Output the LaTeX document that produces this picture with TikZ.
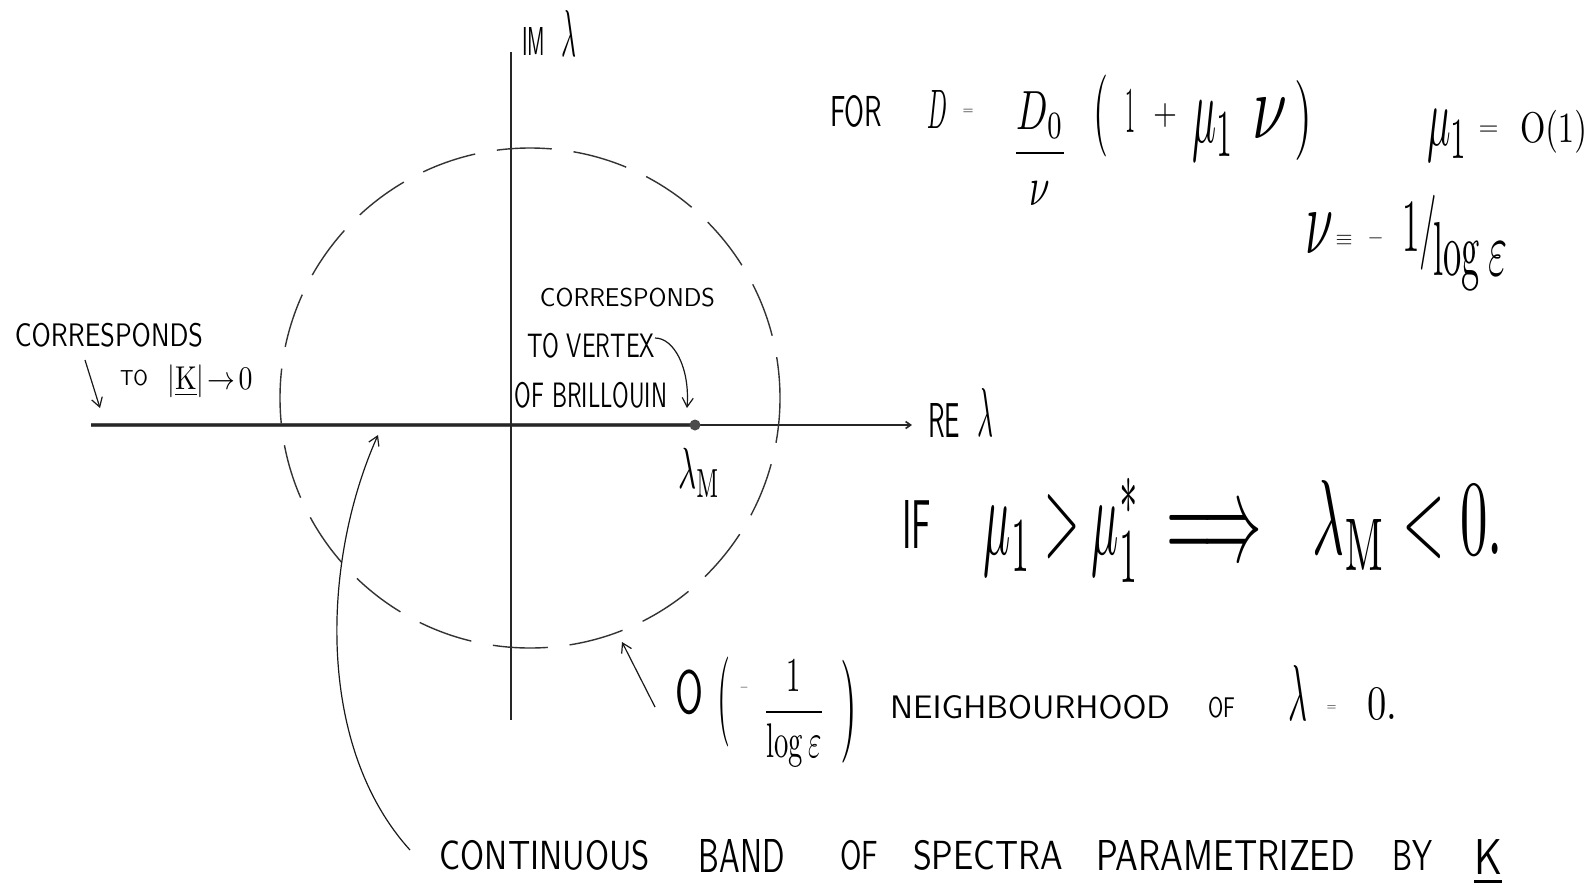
\documentclass[tikz,border=0pt]{standalone}
\usepackage{amsmath}
\usepackage{graphicx}
\usetikzlibrary{arrows.meta}
\newcommand\rb[3]{\resizebox*{#1pt}{#2pt}{#3}}
\newcommand\rw[2]{\resizebox{#1pt}{!}{#2}}
\tikzset{
  lab/.style={inner sep=0pt, outer sep=0pt, anchor=center, font=\sffamily},
  axisline/.style={line width=1.6pt, black!85},
  ring/.style={line width=1.4pt, dash pattern=on 55pt off 22pt, black!80},
  band/.style={line width=4.5pt, black!65},
  hand/.style={line width=1.2pt, black!90, -{Straight Barb[length=9pt,width=11pt]}},
}
\begin{document}
\begin{tikzpicture}[x=1pt,y=-1pt]
\fill[white] (0,0) rectangle (1593,892);
\useasboundingbox (0,0) rectangle (1593,892);

% axes
\coordinate (ytop) at (511,52);
\coordinate (ybot) at (511,720);
\coordinate (xl) at (91,425);
\coordinate (xr) at (912,425);
\coordinate (lmpt) at (695,425);
\draw[band] (xl) -- (lmpt);
\draw[axisline] (ytop) -- (ybot);
\draw[axisline, -{Straight Barb[length=5pt,width=7pt]}] (xl) -- (xr);
\fill[black!70] (lmpt) circle[radius=5.5];

% dashed neighbourhood circle
\draw[ring, dash phase=10pt] (530,398) circle[radius=250];

% axis labels
\node[lab] (imtxt) at (533.5,41) {\rb{23}{28}{IM}};
\node[lab] (imlam) at (569,33.5) {\rb{15}{46}{$\lambda$}};
\node[lab] (retxt) at (944,420) {\rb{32}{34}{RE}};
\node[lab] (relam) at (985,412) {\rb{16}{48}{$\lambda$}};

% left annotation
\node[lab] (corl) at (109,335) {\rb{188}{24}{CORRESPONDS}};
\node[lab] (tol) at (134,378) {\rb{28}{16}{TO}};
\node[lab] (kl) at (210,381.5) {\rb{85}{33}{$|\underline{\mathrm{K}}|\!\to\! 0$}};
\coordinate (larrs) at (85,360);
\coordinate (larre) at (100,408);
\draw[hand] (larrs) -- (larre);

% middle annotation
\node[lab] (corm) at (627.5,297.5) {\rb{175}{19}{CORRESPONDS}};
\node[lab] (vtx) at (591,345.5) {\rb{128}{25}{TO VERTEX}};
\node[lab] (bril) at (591,395) {\rb{152}{26}{OF BRILLOUIN}};
\coordinate (vtxarr) at (655,338);
\coordinate (vtxtip) at (687,408);
\draw[hand] (vtxarr) .. controls (674,338) and (690,368) .. (vtxtip);
\node[lab] (lamM) at (699,472.5) {\rb{42}{49}{$\lambda_{\mathrm{M}}$}};

% formula top right
\node[lab] (fortx) at (856,111) {\rb{52}{32}{FOR}};
\node[lab] (dD) at (937.5,109) {\rb{20}{38}{$D$}};
\node[lab] (deq) at (968,112) {\rw{11}{$=$}};
\node[lab] (dfr) at (1040,148.5) {\rb{56}{113}{$\dfrac{D_0}{\nu}$}};
\node[lab] (lpar) at (1100.5,116) {\rb{15}{82}{$($}};
\node[lab] (one) at (1130,111) {\rb{10}{42}{$1$}};
\node[lab] (plus) at (1165,115) {\rb{24}{24}{$+$}};
\node[lab] (mua) at (1213,131) {\rb{42}{60}{$\mu_1$}};
\node[lab] (nua) at (1269.5,118) {\rb{35}{40}{$\nu$}};
\node[lab] (rpar) at (1303,120) {\rb{18}{80}{$)$}};
\node[lab] (mub) at (1447.5,136) {\rb{41}{52}{$\mu_1$}};
\node[lab] (eqb) at (1488.5,131) {\rw{20}{$=$}};
\node[lab] (oone) at (1553.5,131.5) {\rb{67}{43}{$\mathrm{O}(1)$}};

\node[lab] (nub) at (1319,233) {\rb{28}{40}{$\nu$}};
\node[lab] (equiv) at (1344,240.5) {\rw{17}{$\equiv$}};
\node[lab] (minus) at (1375.5,238) {\rw{16}{$-$}};
\node[lab] (onesl) at (1419.5,232.5) {\rb{35}{75}{$1/$}};
\node[lab] (logt) at (1456.5,256) {\rb{47}{68}{$\log$}};
\node[lab] (eps) at (1497.5,258.5) {\rb{19}{33}{$\varepsilon$}};

% IF line
\node[lab] (iftx) at (916.5,524) {\rb{29}{48}{IF}};
\node[lab] (ineq) at (1062,530) {\rb{156}{104}{$\mu_1>\mu_1^{*}$}};
\node[lab] (impl) at (1214,537.5) {\rb{96}{45}{$\Longrightarrow$}};
\node[lab] (lamres) at (1408,525) {\rb{190}{90}{$\lambda_{\mathrm{M}}<0.$}};

% neighbourhood annotation
\node[lab] (bigO) at (689,692.5) {\rb{28}{45}{O}};
\node[lab] (lpb) at (723.5,702) {\rb{13}{90}{$($}};
\node[lab] (mnb) at (744,688) {\rw{9}{$-$}};
\node[lab] (frb) at (794,713.5) {\rb{62}{107}{$\dfrac{1}{\log\varepsilon}$}};
\node[lab] (rpb) at (848.5,711.5) {\rb{17}{103}{$)$}};
\node[lab] (nbh) at (1030,707) {\rb{280}{24}{NEIGHBOURHOOD}};
\node[lab] (ofa) at (1221.5,707.5) {\rb{27}{21}{OF}};
\node[lab] (lamz) at (1297.5,692.5) {\rb{19}{55}{$\lambda$}};
\node[lab] (eqz) at (1331.5,708.5) {\rw{10}{$=$}};
\node[lab] (zero) at (1382,703.5) {\rb{30}{31}{$0.$}};
\coordinate (oarrs) at (655,707);
\coordinate (oarre) at (622,642);
\draw[hand] (oarrs) -- (oarre);

% bottom caption
\node[lab] (w1) at (545,855) {\rb{210}{30}{CONTINUOUS}};
\node[lab] (w2) at (742,856) {\rb{86}{33}{BAND}};
\node[lab] (w3) at (859,855) {\rb{38}{30}{OF}};
\node[lab] (w4) at (988,855) {\rb{150}{30}{SPECTRA}};
\node[lab] (w5) at (1226,855) {\rb{258}{30}{PARAMETRIZED}};
\node[lab] (w6) at (1412,855) {\rb{40}{30}{BY}};
\node[lab] (w7) at (1488,862) {\rb{28}{45}{\underline{K}}};
\coordinate (barrs) at (410,850);
\coordinate (barre) at (378,435);
\draw[hand] (barrs) .. controls (315,745) and (322,560) .. (barre);
\end{tikzpicture}
\end{document}
